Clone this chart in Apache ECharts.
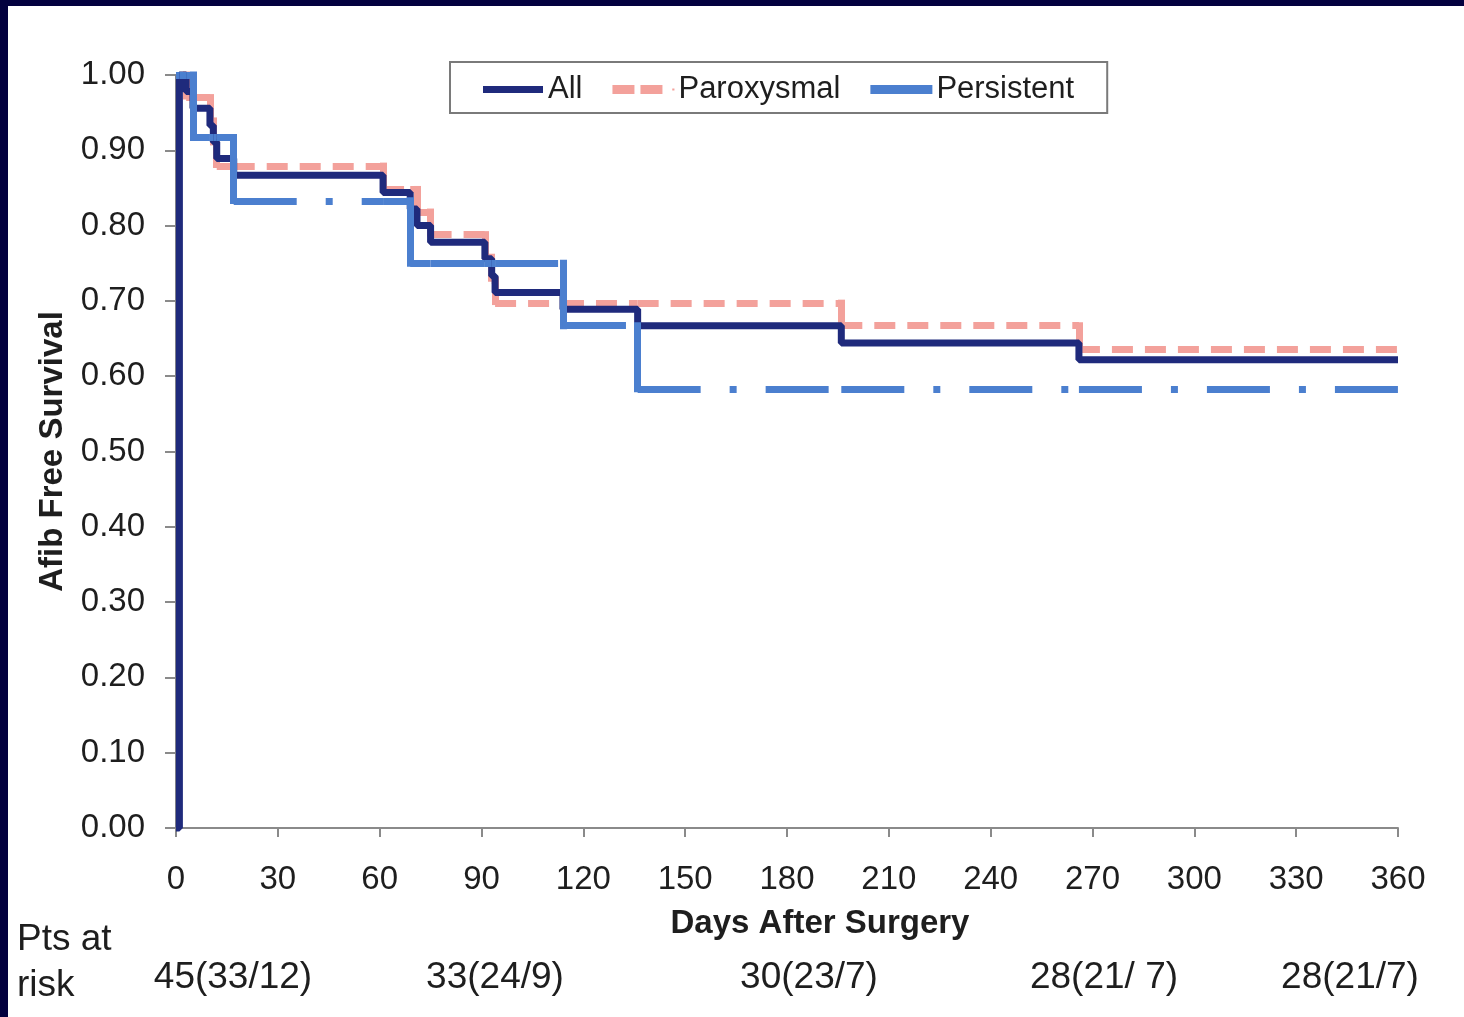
<!DOCTYPE html>
<html>
<head>
<meta charset="utf-8">
<script src="https://cdn.jsdelivr.net/npm/echarts@6/dist/echarts.min.js"></script>
<style>
  html, body { margin: 0; padding: 0; background: #ffffff; }
  #chart { position: absolute; left: 0; top: 0; width: 1464px; height: 1017px; }
  .frame-top { position: absolute; left: 0; top: 0; width: 1464px; height: 6px; background: #03013f; }
  .frame-left { position: absolute; left: 0; top: 0; width: 8px; height: 1017px; background: #03013f; }
</style>
</head>
<body>
<div id="chart"></div>
<div class="frame-top"></div>
<div class="frame-left"></div>
<script>
// ---- data ----
const seriesNames = ['All', 'Paroxysmal', 'Persistent'];

const allDays = [0, 1, 3, 5, 10, 11, 12, 17, 61, 69, 71, 75, 91, 93, 94, 114, 136, 196, 266, 360];
const allSurv = [0, 1.000, 0.978, 0.956, 0.933, 0.911, 0.889, 0.867, 0.844, 0.822, 0.800, 0.778, 0.756, 0.733, 0.711, 0.689, 0.667, 0.644, 0.622, 0.622];

const parDays = [0, 3, 10, 11, 12, 61, 71, 75, 91, 93, 94, 196, 266, 360];
const parSurv = [1.000, 0.970, 0.939, 0.909, 0.879, 0.848, 0.818, 0.788, 0.758, 0.727, 0.697, 0.667, 0.636, 0.636];

const perDays = [0, 5, 17, 69, 114, 136, 360];
const perSurv = [1.000, 0.917, 0.833, 0.750, 0.667, 0.583, 0.583];

const riskHeader = ['Pts at', 'risk'];
const riskLabels = ['45(33/12)', '33(24/9)', '30(23/7)', '28(21/ 7)', '28(21/7)'];

// ---- build ----
const FONT = '"Liberation Sans", Arial, Helvetica, sans-serif';
const C_ALL = '#1f2a7c', C_PAR = '#f3a19b', C_PER = '#4b7fcf', C_AXIS = '#8a8a8a', C_TEXT = '#1e1e1e';

const breaks = Array.from(new Set([].concat(allDays, parDays, perDays))).sort((a, b) => a - b);

function stepSegments(days, vals) {
  const valAt = t => { let v = vals[0]; for (let i = 0; i < days.length; i++) if (days[i] <= t) v = vals[i]; return v; };
  const out = [];
  for (let k = 0; k < breaks.length - 1; k++) {
    const a = breaks[k], b = breaks[k + 1];
    const va = valAt(a), vb = valAt(b);
    out.push({ coords: [[a, va], [b, va]] });
    if (vb !== va) out.push({ coords: [[b, va], [b, vb]], lineStyle: { cap: 'square' } });
  }
  return out;
}

const chart = echarts.init(document.getElementById('chart'), null, { renderer: 'canvas' });

const riskGraphics = [];
const riskCenters = [233, 495, 809, 1104, 1350];
riskLabels.forEach((t, i) => riskGraphics.push({
  type: 'text', x: riskCenters[i], y: 978,
  style: { text: t, fill: C_TEXT, fontSize: 37, fontFamily: FONT, align: 'center', verticalAlign: 'middle' }
}));
riskHeader.forEach((t, i) => riskGraphics.push({
  type: 'text', x: 17, y: 940 + i * 46,
  style: { text: t, fill: C_TEXT, fontSize: 37, fontFamily: FONT, align: 'left', verticalAlign: 'middle' }
}));

chart.setOption({
  animation: false,
  backgroundColor: '#ffffff',
  grid: { left: 176, right: 66, top: 75, bottom: 189, containLabel: false },
  legend: {
    left: 450, top: 62,
    padding: [12, 33, 8, 33],
    borderColor: '#7a7a7a', borderWidth: 2,
    itemWidth: 60, itemHeight: 7, itemGap: 30,
    textStyle: { fontFamily: FONT, fontSize: 31, color: C_TEXT },
    data: [
      { name: 'All', icon: 'rect' },
      { name: 'Paroxysmal', icon: 'path://M0,0H20V7H0Z M28,0H48V7H28Z M59.8,3.4H60V3.6H59.8Z' },
      { name: 'Persistent', icon: 'rect' }
    ]
  },
  xAxis: {
    type: 'value', min: 0, max: 360, interval: 30,
    name: 'Days After Surgery', nameLocation: 'middle', nameGap: 79,
    nameTextStyle: { fontFamily: FONT, fontWeight: 'bold', fontSize: 33, color: C_TEXT, padding: [0, 0, 0, 66] },
    axisLine: { show: true, lineStyle: { color: C_AXIS, width: 2 } },
    axisTick: { show: true, length: 9, lineStyle: { color: C_AXIS, width: 2 } },
    axisLabel: { margin: 35, fontFamily: FONT, fontSize: 33, color: C_TEXT },
    splitLine: { show: false }
  },
  yAxis: {
    type: 'value', min: 0, max: 1, interval: 0.1,
    name: 'Afib Free Survival', nameLocation: 'middle', nameGap: 107,
    nameTextStyle: { fontFamily: FONT, fontWeight: 'bold', fontSize: 33, color: C_TEXT },
    axisLine: { show: true, lineStyle: { color: C_AXIS, width: 2 } },
    axisTick: { show: true, length: 11, lineStyle: { color: C_AXIS, width: 2 } },
    axisLabel: { margin: 31, fontFamily: FONT, fontSize: 33, color: C_TEXT, formatter: v => v.toFixed(2) },
    splitLine: { show: false }
  },
  series: [
    {
      name: seriesNames[1], type: 'lines', coordinateSystem: 'cartesian2d', polyline: false, clip: false,
      z: 2, silent: true,
      itemStyle: { color: C_PAR },
      lineStyle: { color: C_PAR, width: 7, opacity: 1, type: [21, 12], cap: 'butt' },
      data: stepSegments(parDays, parSurv)
    },
    {
      name: seriesNames[0], type: 'line', step: 'end', showSymbol: false, symbol: 'none', clip: false,
      z: 3, silent: true,
      itemStyle: { color: C_ALL },
      lineStyle: { color: C_ALL, width: 7 },
      data: allDays.map((d, i) => [d, allSurv[i]])
    },
    {
      name: seriesNames[2], type: 'lines', coordinateSystem: 'cartesian2d', polyline: false, clip: false,
      z: 4, silent: true,
      itemStyle: { color: C_PER },
      lineStyle: { color: C_PER, width: 7, opacity: 1, type: [63, 29, 7, 29], cap: 'butt' },
      data: stepSegments(perDays, perSurv)
    }
  ],
  graphic: riskGraphics
});
</script>
</body>
</html>
